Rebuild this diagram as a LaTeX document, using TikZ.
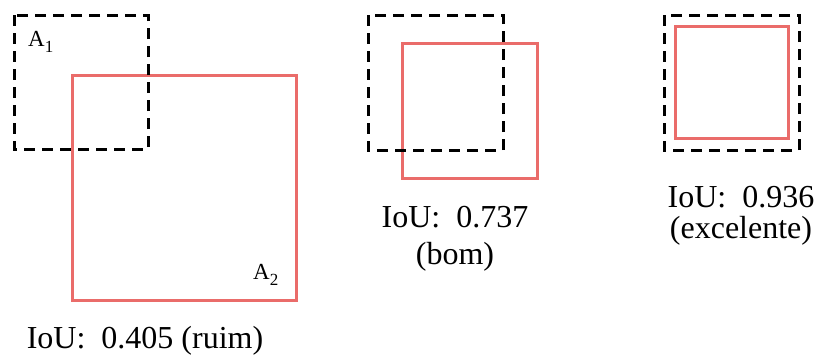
\documentclass[tikz,border=0pt]{standalone}
\usepackage{fontspec}
\setmainfont{Liberation Serif}
\definecolor{boxred}{RGB}{234,108,106}
\tikzset{
  truth/.style={draw=black, line width=3pt, dash pattern=on 11pt off 7pt, fill=none},
  pred/.style={draw=boxred, line width=3pt, fill=none},
  iou/.style={font=\fontsize{32}{37}\selectfont, anchor=base, inner sep=0pt},
  arealabel/.style={font=\fontsize{23}{26}\selectfont, anchor=base west, inner sep=0pt}
}
\newcommand{\subidx}[1]{\raisebox{-0.3em}{\fontsize{17}{19}\selectfont #1}}
\begin{document}
\begin{tikzpicture}[x=1pt,y=-1pt]
  \useasboundingbox (0,0) rectangle (816,356);
  % poor overlap
  \draw[pred] (72,75) rectangle (296,300);
  \draw[truth] (14,15) rectangle (148,149);
  \node[arealabel] (a1) at (28,46) {A\subidx{1}};
  \node[arealabel] (a2) at (253,279) {A\subidx{2}};
  \node[iou] (t1) at (145,348) {IoU:\ \ 0.405 (ruim)};
  % good overlap
  \draw[pred] (402,43) rectangle (537,178);
  \draw[truth] (368,15) rectangle (503,150);
  \node[iou] (t2) at (455,227) {IoU:\ \ 0.737};
  \node[iou] (t2b) at (455,264) {(bom)};
  % excellent overlap
  \draw[pred] (675,26) rectangle (788,138);
  \draw[truth] (664,15) rectangle (799,150);
  \node[iou] (t3) at (741,207) {IoU:\ \ 0.936};
  \node[iou] (t3b) at (741,238) {(excelente)};
\end{tikzpicture}
\end{document}
